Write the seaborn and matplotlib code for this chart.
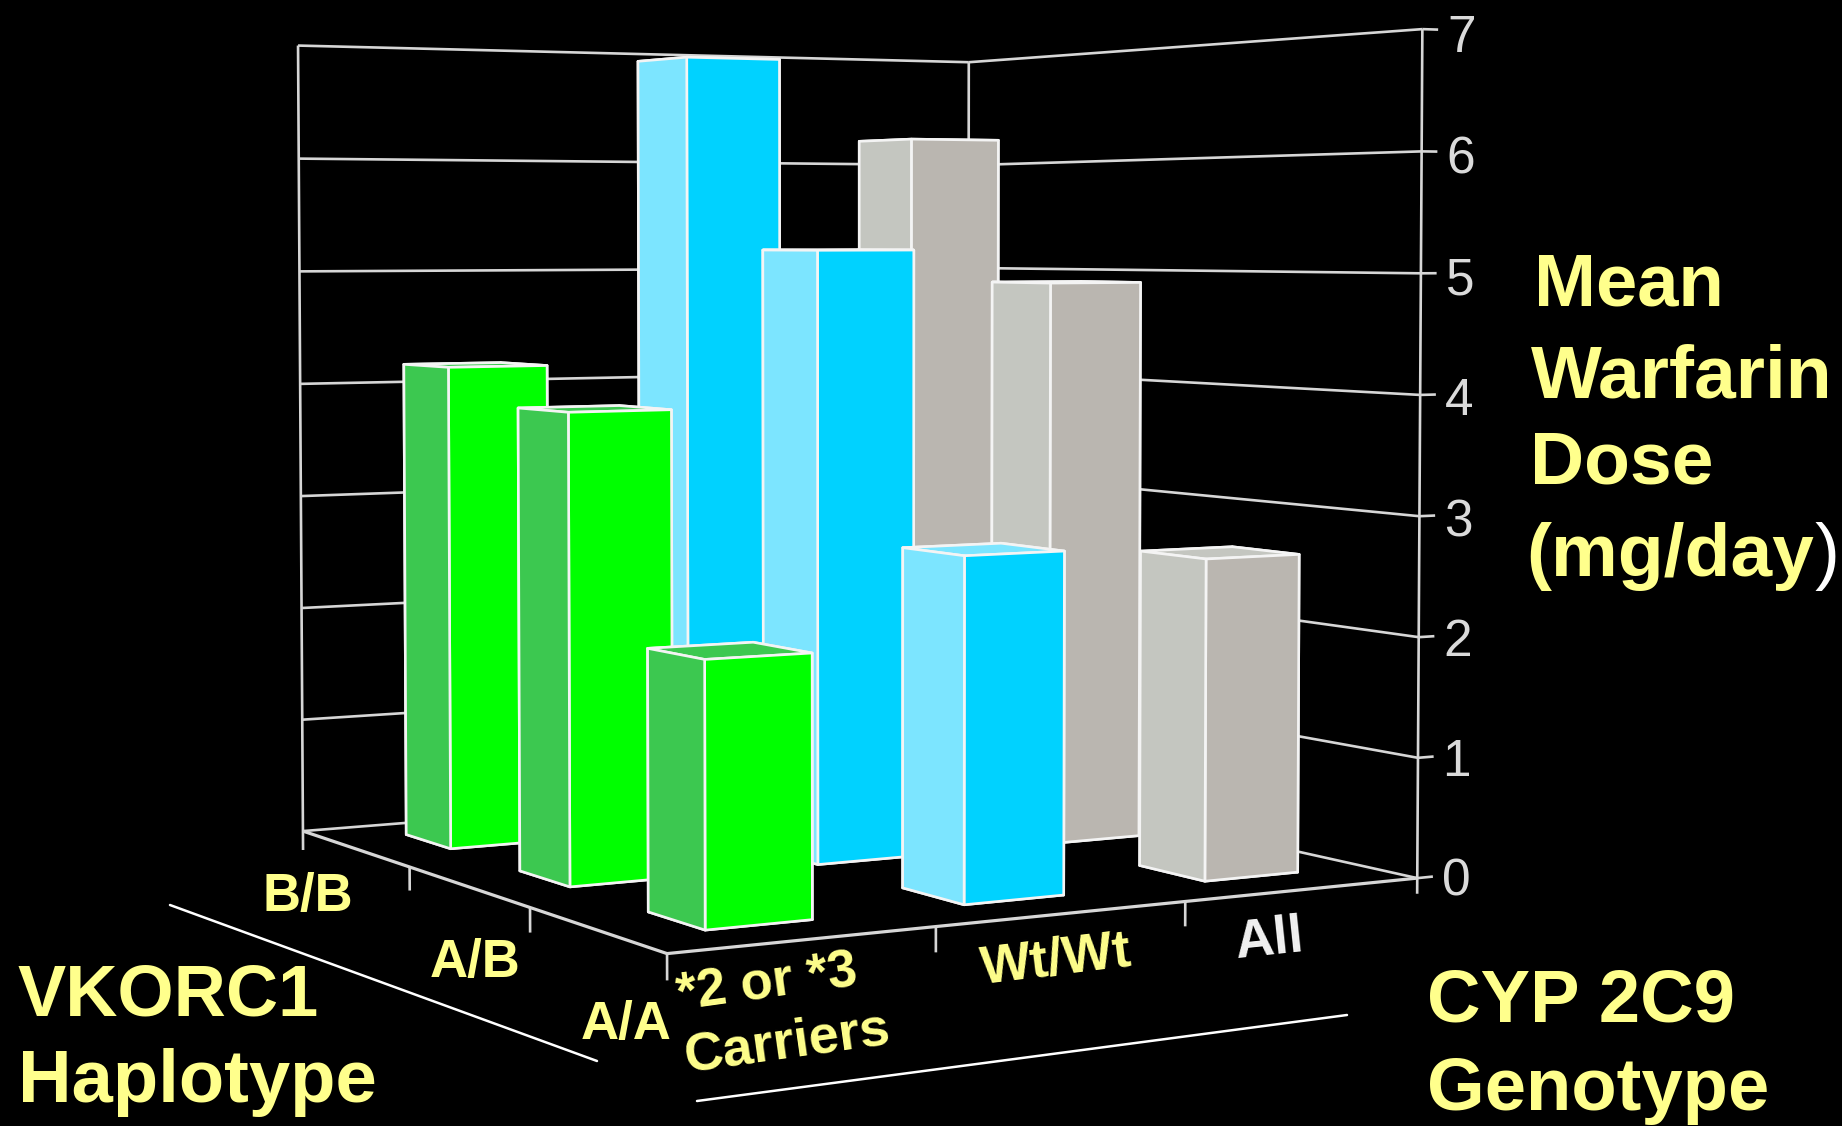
import numpy as np
import matplotlib
matplotlib.use("Agg")
import matplotlib.pyplot as plt
from matplotlib.lines import Line2D
from mpl_toolkits.mplot3d import proj3d
from mpl_toolkits.mplot3d.art3d import Line3DCollection
import seaborn as sns

# Mean warfarin dose (mg/day) by VKORC1 haplotype and CYP2C9 genotype
HAPLOTYPES = ["A/A", "A/B", "B/B"]
GENOTYPES = ["*2 or *3", "Carriers", "Wt/Wt", "All"]
DOSE_CARRIERS = [2.08, 3.88, 4.18]
DOSE_WT = [2.78, 5.19, 6.9]
DOSE_ALL = [2.66, 4.9, 6.2]
DOSE_TICKS = [0, 1, 2, 3, 4, 5, 6, 7]

sns.set_theme(style="dark")
plt.rcParams["font.family"] = ["Liberation Sans"]
plt.rcParams["axes.facecolor"] = "black"

W, H = 1842, 1126
YELLOW = "#FFFF8C"
WHITE = "#F2F2F2"
GRID = "#D6D6D6"

# Face colours per genotype column
FRONTS = sns.color_palette(["#00FF00", "#00D2FF", "#BAB6B0"])
SIDES = sns.color_palette(["#3CC850", "#7CE5FF", "#C4C6C0"])

# Perspective camera solved from where the box corners land on the canvas
CAMERA_ANCHORS = [
    ((0, 0, 0), (666, 953)), ((3, 0, 0), (1418, 878)),
    ((0, 3, 0), (304, 832)), ((3, 3, 0), (967, 778)),
    ((3, 0, 7), (1422, 30)), ((0, 3, 7), (298, 45)),
    ((3, 3, 7), (969, 62)), ((3, 0, 3), (1420, 516)),
    ((0, 3, 4), (300, 384)),
]


def solve_camera(anchors):
    rows = []
    for (x, y, z), (u, v) in anchors:
        u, v = u / 1000.0, (H - v) / 1000.0
        rows.append([x, y, z, 1, 0, 0, 0, 0, -u * x, -u * y, -u * z, -u])
        rows.append([0, 0, 0, 0, x, y, z, 1, -v * x, -v * y, -v * z, -v])
    p = np.linalg.svd(np.array(rows, float))[2][-1].reshape(3, 4)
    p = p / p[2, 3]
    # Depth row: larger means further back, used for sorting the faces
    return np.array([p[0] * 1000, p[1] * 1000, [1, 1, 0, 0.0], p[2]])


fig = plt.figure(figsize=(W / 100, H / 100), dpi=100, facecolor="black")
ax = fig.add_subplot(projection="3d", computed_zorder=False)
ax.set_position([0, 0, 1, 1])
ax.set_axis_off()
ax.set_facecolor("black")
camera = solve_camera(CAMERA_ANCHORS)
ax.get_proj = lambda: camera
ax.apply_aspect = lambda position=None: None
ax.viewLim.intervalx = (0, W)
ax.viewLim.intervaly = (0, H)

# Wall grid, floor outline and ticks
grid_segments = []
for z in DOSE_TICKS:
    grid_segments += [[(0, 3, z), (3, 3, z)], [(3, 3, z), (3, 0, z)], [(3, 0, z), (3.07, 0, z)]]
    px, py, _ = proj3d.proj_transform(3.165, 0, z, camera)
    ax.text2D(px + 2, py - 8, str(z), transform=ax.transData, color="#DADADA",
              fontsize=37, ha="center", va="center", zorder=2)
grid_segments += [[(0, 3, 7), (0, 3, -0.17)], [(3, 3, 7), (3, 3, 0)], [(3, 0, 7), (3, 0, -0.13)]]
for y in (0, 1, 2):
    grid_segments.append([(0, y, 0), (0, y, -0.2)])
for x in (1, 2):
    grid_segments.append([(x, 0, 0), (x, 0, -0.2)])
ax.add_collection3d(Line3DCollection(grid_segments, colors=GRID, linewidths=1.9, zorder=1))
ax.add_collection3d(Line3DCollection([[(0, 3, 0), (0, 0, 0)], [(0, 0, 0), (3, 0, 0)]],
                                     colors=GRID, linewidths=2.3, zorder=1))

# Bars, painted from the back of the floor to the front
BAR_W, BAR_D = 0.405, 0.405
columns = [DOSE_CARRIERS, DOSE_WT, DOSE_ALL]
cells = [(i, j) for i in range(3) for j in range(3)]
for rank, (i, j) in enumerate(sorted(cells, key=lambda c: -(c[0] + c[1]))):
    faces = [SIDES[i], SIDES[i], FRONTS[i], FRONTS[i], SIDES[i], SIDES[i]]
    ax.bar3d(i + 0.51 - BAR_W / 2, j + 0.52 - BAR_D / 2, 0, BAR_W, BAR_D, columns[i][j],
             color=faces, shade=False, edgecolor="#F4F4F4", linewidth=1.9, zorder=10 + rank)


def label(px, py, text, size, color=YELLOW, rotation=0, ha="center", va="center", **kw):
    fig.text(px / W, 1 - py / H, text, fontsize=size, color=color, rotation=rotation,
             ha=ha, va=va, fontweight="bold", rotation_mode="anchor", **kw)


# Category labels along the two floor edges
for (px, py), text in zip([(626, 1025), (475, 963), (308, 897)], HAPLOTYPES):
    label(px, py, text, 38)
label(767, 984, GENOTYPES[0], 38, rotation=8)
label(787, 1043, GENOTYPES[1], 39, rotation=8)
label(1056, 961, GENOTYPES[2], 38.5, rotation=7)
label(1270, 940, GENOTYPES[3], 39, color=WHITE, rotation=6)

# Axis titles
for px, py, text, size in [(18, 1016, "VKORC1", 52), (18, 1102, "Haplotype", 53.5),
                           (1427, 1022, "CYP 2C9", 53.5), (1427, 1110, "Genotype", 53.5),
                           (1534, 306, "Mean", 53.5), (1531, 397, "Warfarin", 54),
                           (1530, 483, "Dose", 54), (1526, 576, "(mg/day", 54)]:
    label(px, py, text, size, ha="left", va="baseline")
fig.text(1814 / W, 1 - 576 / H, ")", fontsize=54, color="white", ha="left", va="baseline")

# Brackets beneath the floor edges
for (x0, y0), (x1, y1) in [((170, 905), (597, 1061)), ((697, 1101), (1347, 1015))]:
    fig.add_artist(Line2D([x0 / W, x1 / W], [1 - y0 / H, 1 - y1 / H], color="white", lw=1.8))

fig.savefig("out.png", dpi=100, facecolor="black")
